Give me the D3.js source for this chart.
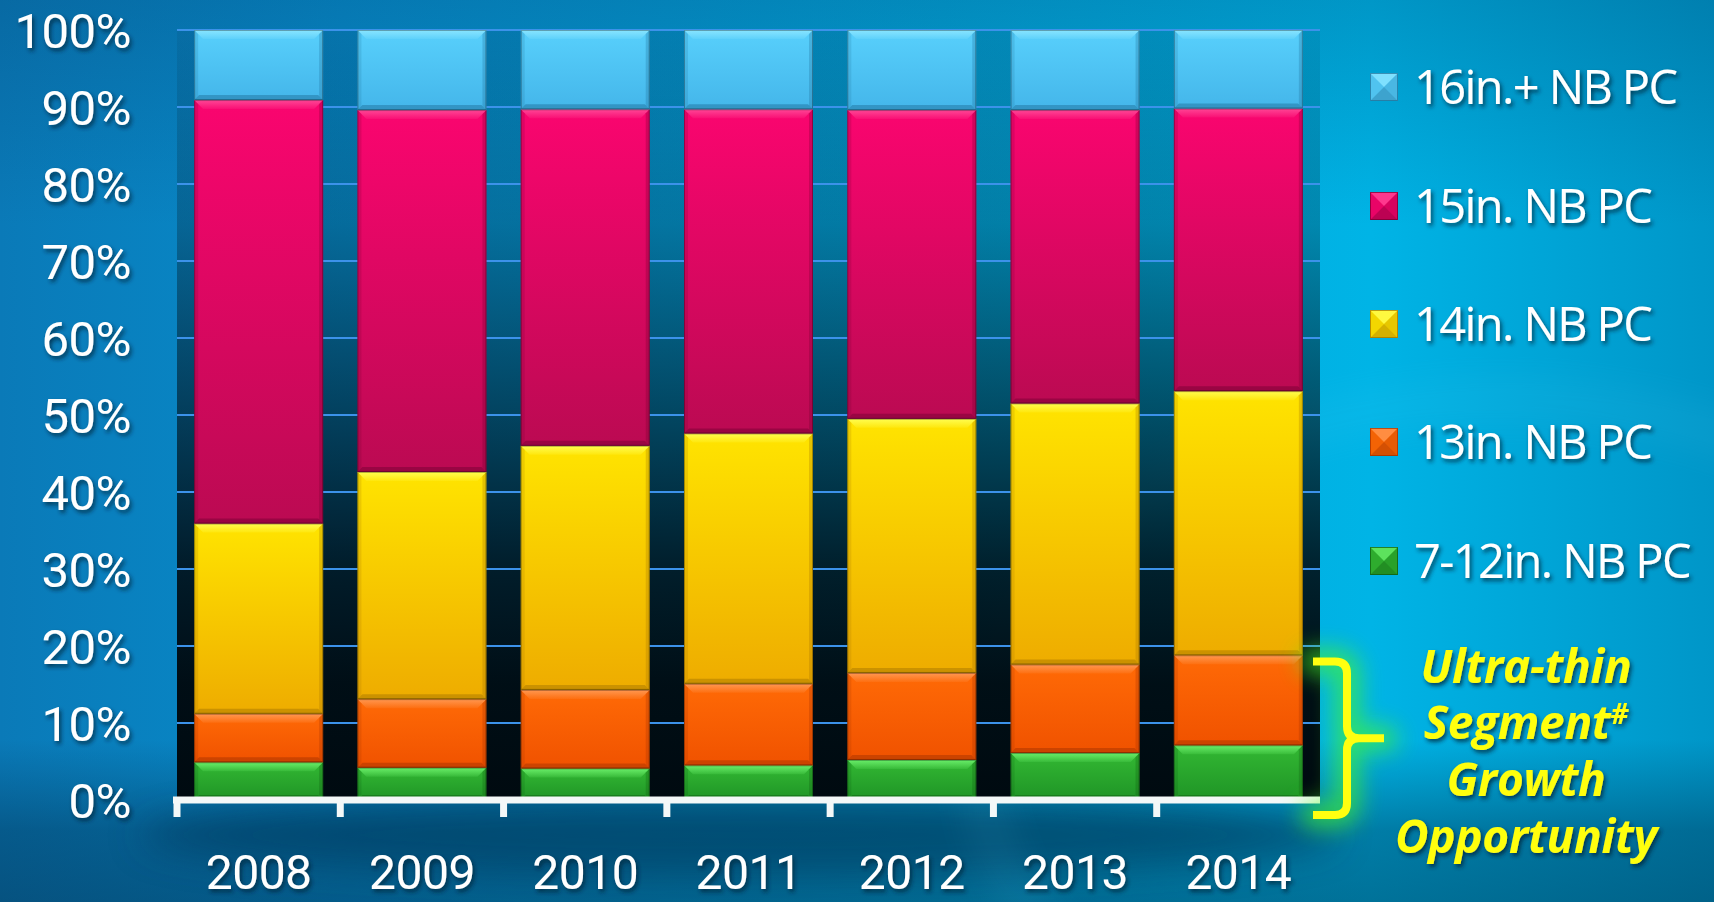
<!DOCTYPE html>
<html>
<head>
<meta charset="utf-8">
<script src="https://cdn.jsdelivr.net/npm/d3@7"></script>
<style>
  html, body { margin: 0; padding: 0; background: #0a7ab4; overflow: hidden; }
  svg { display: block; }
</style>
</head>
<body>
<svg id="chart" width="1714" height="902"></svg>
<script>
// ---------- DATA ----------
const years = ["2008", "2009", "2010", "2011", "2012", "2013", "2014"];
const seriesNames = ["7-12in. NB PC", "13in. NB PC", "14in. NB PC", "15in. NB PC", "16in.+ NB PC"];
const s7to12 = [4.9, 4.2, 4.1, 4.5, 5.2, 6.1, 7.1];
const s13 = [6.3, 8.9, 10.2, 10.6, 11.3, 11.5, 11.7];
const s14 = [24.7, 29.5, 31.7, 32.5, 33.0, 33.9, 34.3];
const s15 = [55.0, 47.0, 43.7, 42.1, 40.1, 38.1, 36.7];
const s16plus = [9.1, 10.4, 10.3, 10.3, 10.4, 10.4, 10.2];
const yTickValues = [0, 10, 20, 30, 40, 50, 60, 70, 80, 90, 100];
const annotationLines = ["Ultra-thin", "Segment", "Growth", "Opportunity"];

// ---------- STYLE ----------
const seriesStyle = [
  { top: "#33b833", bottom: "#1f9426", hi: "#6cf06c", dark: "#0d5a10" },
  { top: "#ff6a06", bottom: "#f05200", hi: "#ff9a55", dark: "#a03000" },
  { top: "#ffe400", bottom: "#eeac00", hi: "#ffff55", dark: "#a07000" },
  { top: "#fa056f", bottom: "#bb0a52", hi: "#ff4a98", dark: "#700030" },
  { top: "#58d0fc", bottom: "#44b6ea", hi: "#8ce6ff", dark: "#1c6d96" }
];
const FONT = "'Open Sans', 'Noto Sans', sans-serif";
const AXFONT = "Roboto, 'Open Sans', sans-serif";

const svg = d3.select("#chart");
const W = 1714, H = 902;
const plot = { left: 177, right: 1320, top: 30, bottom: 800 };

const table = years.map((yr, i) => ({
  year: yr, s0: s7to12[i], s1: s13[i], s2: s14[i], s3: s15[i], s4: s16plus[i]
}));
const keys = ["s0", "s1", "s2", "s3", "s4"];
const stacked = d3.stack().keys(keys)(table);

const x = d3.scaleBand().domain(years).range([plot.left, plot.right])
  .paddingInner(0.21).paddingOuter(0.105);
const y = d3.scaleLinear().domain([0, 100]).range([plot.bottom, plot.top]);

// ---------- DEFS ----------
const defs = svg.append("defs");

const bgH = defs.append("linearGradient").attr("id", "bgH").attr("x1", 0).attr("x2", 1).attr("y1", 0).attr("y2", 0);
[[0, "#0a7ab8"], [0.2, "#078ccb"], [0.55, "#03a4d8"], [0.8, "#00b4e6"], [1, "#0096c8"]]
  .forEach(([o, c]) => bgH.append("stop").attr("offset", o).attr("stop-color", c));

const bgV = defs.append("linearGradient").attr("id", "bgV").attr("x1", 0).attr("x2", 0).attr("y1", 0).attr("y2", 1);
[[0, "#00305a", 0.22], [0.25, "#00305a", 0.0], [0.82, "#00304f", 0.0], [0.92, "#002a48", 0.4], [1, "#00223c", 0.45]]
  .forEach(([o, c, a]) => bgV.append("stop").attr("offset", o).attr("stop-color", c).attr("stop-opacity", a));

const plotG = defs.append("linearGradient").attr("id", "plotBg").attr("x1", 0).attr("x2", 0).attr("y1", 0).attr("y2", 1);
[[0, 0.06], [0.25, 0.25], [0.5, 0.58], [0.7, 0.86], [0.85, 0.97], [1, 1]]
  .forEach(([o, a]) => plotG.append("stop").attr("offset", o).attr("stop-color", "#000a10").attr("stop-opacity", a));

seriesStyle.forEach((s, i) => {
  const g = defs.append("linearGradient").attr("id", "seg" + i).attr("x1", 0).attr("x2", 0).attr("y1", 0).attr("y2", 1);
  g.append("stop").attr("offset", 0).attr("stop-color", s.top);
  g.append("stop").attr("offset", 1).attr("stop-color", s.bottom);
  const h = defs.append("linearGradient").attr("id", "hi" + i).attr("x1", 0).attr("x2", 0).attr("y1", 0).attr("y2", 1);
  h.append("stop").attr("offset", 0).attr("stop-color", s.hi).attr("stop-opacity", 0.95);
  h.append("stop").attr("offset", 1).attr("stop-color", s.hi).attr("stop-opacity", 0.15);
});

const shadow = defs.append("filter").attr("id", "txtShadow").attr("x", "-20%").attr("y", "-20%").attr("width", "140%").attr("height", "160%");
shadow.append("feDropShadow").attr("dx", 2).attr("dy", 3).attr("stdDeviation", 2)
  .attr("flood-color", "#002038").attr("flood-opacity", 0.75);

const blur = defs.append("filter").attr("id", "softBlur").attr("x", "-50%").attr("y", "-50%").attr("width", "200%").attr("height", "200%");
blur.append("feGaussianBlur").attr("stdDeviation", 18);

const glow = defs.append("filter").attr("id", "greenGlow").attr("x", "-80%").attr("y", "-40%").attr("width", "260%").attr("height", "180%");
glow.append("feGaussianBlur").attr("stdDeviation", 11);

// ---------- BACKGROUND ----------
svg.append("rect").attr("width", W).attr("height", H).attr("fill", "url(#bgH)");
svg.append("rect").attr("width", W).attr("height", H).attr("fill", "url(#bgV)");
// floor shadow under the bars
svg.append("ellipse").attr("cx", 740).attr("cy", 835).attr("rx", 600).attr("ry", 42)
  .attr("fill", "#003556").attr("opacity", 0.55).attr("filter", "url(#softBlur)");
// soft light arc on the right
svg.append("ellipse").attr("cx", 1500).attr("cy", 760).attr("rx", 520).attr("ry", 360)
  .attr("fill", "none").attr("stroke", "#6fe0ff").attr("stroke-width", 40).attr("opacity", 0.08)
  .attr("filter", "url(#softBlur)");

// ---------- PLOT AREA ----------
svg.append("rect")
  .attr("x", plot.left).attr("y", plot.top)
  .attr("width", plot.right - plot.left).attr("height", plot.bottom - plot.top)
  .attr("fill", "url(#plotBg)");

// gridlines
svg.append("g").selectAll("line").data(yTickValues).join("line")
  .attr("x1", plot.left).attr("x2", plot.right)
  .attr("y1", d => y(d)).attr("y2", d => y(d))
  .attr("stroke", "#3c92ea").attr("stroke-width", 2);

// y labels
svg.append("g").selectAll("text").data(yTickValues).join("text")
  .attr("x", 131).attr("y", d => y(d)).attr("dy", "0.36em")
  .attr("text-anchor", "end")
  .attr("font-family", AXFONT).attr("font-size", 49).attr("letter-spacing", -0.5)
  .attr("fill", "#ffffff").attr("filter", "url(#txtShadow)")
  .text(d => d + "%");

// ---------- BARS ----------
const bw = x.bandwidth();
const layers = svg.append("g").selectAll("g").data(stacked).join("g");
layers.each(function (layer, li) {
  const g = d3.select(this);
  const st = seriesStyle[li];
  const segs = g.selectAll("g").data(layer).join("g");
  segs.each(function (d) {
    const sg = d3.select(this);
    const x0 = x(d.data.year), x1 = x0 + bw;
    const yt = y(d[1]), yb = y(d[0]);
    const h = yb - yt;
    const b = Math.min(9, h / 3);
    sg.append("rect").attr("x", x0).attr("y", yt).attr("width", bw).attr("height", h)
      .attr("fill", `url(#seg${li})`);
    // top bevel
    sg.append("polygon")
      .attr("points", [[x0, yt], [x1, yt], [x1 - b, yt + b], [x0 + b, yt + b]].map(p => p.join(",")).join(" "))
      .attr("fill", `url(#hi${li})`);
    // bottom bevel
    sg.append("polygon")
      .attr("points", [[x0, yb], [x1, yb], [x1 - 5, yb - 5], [x0 + 5, yb - 5]].map(p => p.join(",")).join(" "))
      .attr("fill", st.dark).attr("opacity", 0.45);
    // side bevels
    sg.append("polygon")
      .attr("points", [[x0, yt], [x0 + 4, yt + 4], [x0 + 4, yb - 4], [x0, yb]].map(p => p.join(",")).join(" "))
      .attr("fill", st.dark).attr("opacity", 0.18);
    sg.append("polygon")
      .attr("points", [[x1, yt], [x1 - 4, yt + 4], [x1 - 4, yb - 4], [x1, yb]].map(p => p.join(",")).join(" "))
      .attr("fill", st.dark).attr("opacity", 0.28);
    sg.append("rect").attr("x", x0 + 0.5).attr("y", yt + 0.5).attr("width", bw - 1).attr("height", h - 1)
      .attr("fill", "none").attr("stroke", "#000").attr("stroke-opacity", 0.3).attr("stroke-width", 1);
  });
});

// ---------- X AXIS ----------
const tickXs = years.map(yr => x(yr) - x.step() * x.paddingInner() / 2);
const axisG = svg.append("g");
axisG.append("line")
  .attr("x1", plot.left - 4).attr("x2", plot.right)
  .attr("y1", y(0)).attr("y2", y(0))
  .attr("stroke", "#f4f8f8").attr("stroke-width", 7);
axisG.selectAll("line.tick").data(tickXs).join("line").attr("class", "tick")
  .attr("x1", d => d).attr("x2", d => d)
  .attr("y1", y(0)).attr("y2", y(0) + 17)
  .attr("stroke", "#f4f8f8").attr("stroke-width", 7);

svg.append("g").selectAll("text").data(years).join("text")
  .attr("x", d => x(d) + bw / 2).attr("y", 889)
  .attr("text-anchor", "middle")
  .attr("font-family", AXFONT).attr("font-size", 48).attr("letter-spacing", -0.5)
  .attr("fill", "#ffffff").attr("filter", "url(#txtShadow)")
  .text(d => d);

// ---------- LEGEND ----------
const legendOrder = [4, 3, 2, 1, 0];
const legendCenters = [87, 206, 324, 442, 561];
const lg = svg.append("g");
legendOrder.forEach((si, k) => {
  const cy = legendCenters[k], cx = 1384, s = 14;
  const st = seriesStyle[si];
  const g = lg.append("g");
  const tri = (pts, fill, op) => g.append("polygon").attr("points", pts.map(p => p.join(",")).join(" "))
    .attr("fill", fill).attr("opacity", op);
  g.append("rect").attr("x", cx - s).attr("y", cy - s).attr("width", 2 * s).attr("height", 2 * s).attr("fill", st.top);
  tri([[cx - s, cy - s], [cx + s, cy - s], [cx, cy]], st.hi, 0.75);
  tri([[cx - s, cy + s], [cx + s, cy + s], [cx, cy]], st.dark, 0.45);
  tri([[cx - s, cy - s], [cx - s, cy + s], [cx, cy]], st.dark, 0.12);
  tri([[cx + s, cy - s], [cx + s, cy + s], [cx, cy]], st.dark, 0.25);
  g.append("rect").attr("x", cx - s + 0.5).attr("y", cy - s + 0.5).attr("width", 2 * s - 1).attr("height", 2 * s - 1)
    .attr("fill", "none").attr("stroke", st.dark).attr("stroke-opacity", 0.7);
  lg.append("text").attr("x", 1414).attr("y", cy + 17)
    .attr("font-family", FONT).attr("font-size", 47).attr("letter-spacing", -1.6)
    .attr("fill", "#ffffff").attr("filter", "url(#txtShadow)")
    .text(seriesNames[si]);
});

// ---------- ANNOTATION ----------
const bx0 = plot.right - 7, bxm = plot.right + 27, bxTip = plot.right + 64;
const bTop = y(18.0), bBot = y(0) + 15, bMid = (bTop + bBot) / 2;
const r = 12;
const bracketPath = [
  `M${bx0},${bTop}`, `L${bxm - r},${bTop}`, `Q${bxm},${bTop} ${bxm},${bTop + r}`,
  `L${bxm},${bMid - r}`, `Q${bxm},${bMid} ${bxm + r},${bMid}`, `L${bxTip},${bMid}`,
  `M${bxm + r},${bMid}`, `Q${bxm},${bMid} ${bxm},${bMid + r}`,
  `L${bxm},${bBot - r}`, `Q${bxm},${bBot} ${bxm - r},${bBot}`, `L${bx0},${bBot}`
].join(" ");
svg.append("path").attr("d", bracketPath).attr("fill", "none")
  .attr("stroke", "#4cff1a").attr("stroke-width", 26).attr("stroke-linecap", "round")
  .attr("opacity", 0.6).attr("filter", "url(#greenGlow)");
svg.append("path").attr("d", bracketPath).attr("fill", "none")
  .attr("stroke", "#ffff10").attr("stroke-width", 8).attr("stroke-linecap", "butt").attr("stroke-linejoin", "round");

const baselines = [683, 739, 796, 853];
const ann = svg.append("g").attr("filter", "url(#txtShadow)");
annotationLines.forEach((t, i) => {
  const tx = ann.append("text").attr("x", 1526).attr("y", baselines[i])
    .attr("text-anchor", "middle")
    .attr("font-family", FONT).attr("font-size", 46).attr("font-weight", 700).attr("font-style", "italic")
    .attr("letter-spacing", -0.3)
    .attr("fill", "#ffff10");
  tx.append("tspan").text(t);
  if (t === "Segment") {
    tx.append("tspan").attr("font-size", 28).attr("dy", -15).text("#");
  }
});
</script>
</body>
</html>
